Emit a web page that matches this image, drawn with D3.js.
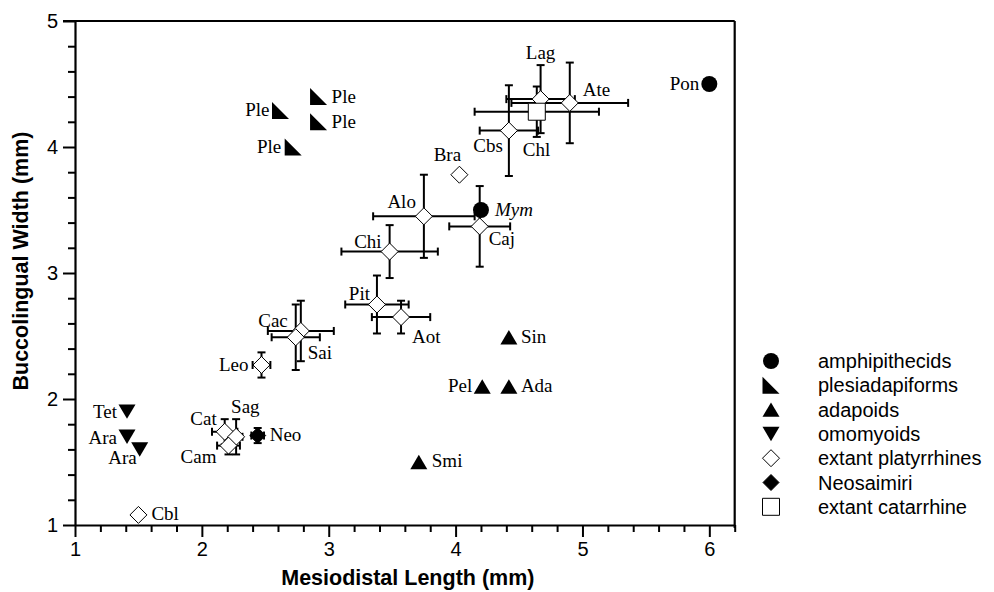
<!DOCTYPE html>
<html>
<head>
<meta charset="utf-8" />
<title>Molar size scatter</title>
<script src="https://cdn.jsdelivr.net/npm/d3@7"></script>
<style>
* { padding: 0; margin: 0; }
body { background: #fff; }
#chart { width: 994px; height: 592px; }
</style>
</head>
<body>
<div id="chart"></div>
<script>
// data
var taxa   = ["Pon","Mym","Ple","Ple","Ple","Ple","Sin","Pel","Ada","Smi","Tet","Ara","Ara",
              "Lag","Ate","Cbs","Bra","Alo","Caj","Chi","Pit","Aot","Cac","Sai","Leo","Cat","Sag","Cam","Cbl",
              "Neo","Chl"]
var groups = ["amph","amph","ples","ples","ples","ples","adap","adap","adap","adap","omo","omo","omo",
              "plat","plat","plat","plat","plat","plat","plat","plat","plat","plat","plat","plat","plat","plat","plat","plat",
              "neo","cat"]
var mdLength = [6.00,4.20,2.62,2.72,2.92,2.92,4.42,4.21,4.42,3.71,1.41,1.41,1.51,
                4.67,4.90,4.42,4.03,3.75,4.19,3.48,3.38,3.57,2.78,2.74,2.47,2.18,2.27,2.21,1.50,
                2.44,4.64]
var blWidth  = [4.50,3.50,4.29,4.00,4.40,4.20,2.49,2.10,2.10,1.50,1.90,1.70,1.60,
                4.38,4.35,4.13,3.78,3.45,3.37,3.17,2.75,2.65,2.54,2.49,2.27,1.74,1.70,1.63,1.08,
                1.71,4.28]
var mdErr    = [0,0,0,0,0,0,0,0,0,0,0,0,0,
                0.27,0.46,0.23,0,0.40,0.24,0.38,0.25,0.23,0.26,0.19,0.07,0.10,0.05,0.09,0,
                0.05,0.49]
var blErr    = [0,0,0,0,0,0,0,0,0,0,0,0,0,
                0.27,0.32,0.36,0,0.33,0.32,0.21,0.23,0.13,0.24,0.26,0.10,0.10,0.14,0.07,0,
                0.06,0.20]

var legendGroups = ["amph","ples","adap","omo","plat","neo","cat"]
var legendNames  = ["amphipithecids","plesiadapiforms","adapoids","omomyoids","extant platyrrhines","Neosaimiri","extant catarrhine"]

// label placement (dx, dy, anchor) for each taxon, same order as above
var labelPos = [[-10,6,"end"],[14,6,"start"],[-11,6,"end"],[-12,6,"end"],[13,6,"start"],[13,6,"start"],
                [12,6,"start"],[-10,6,"end"],[12,6,"start"],[13,5,"start"],[-10,6,"end"],[-10,7,"end"],[-3,15,"end"],
                [0,-40,"middle"],[13,-7,"start"],[-6,21,"end"],[-12,-14,"middle"],[-8,-8,"end"],[9,19,"start"],
                [-8,-4,"end"],[-7,-5,"end"],[11,26,"start"],[-13,-4,"end"],[12,22,"start"],[-13,6,"end"],
                [-8,-7,"end"],[-5,-24,"start"],[-12,17,"end"],[13,5,"start"],[12,5,"start"],[-14,44,"start"]]

var width = 994, height = 592
var margin = {top: 21, left: 75, right: 259.3, bottom: 67}

var svg = d3.select("#chart").append("svg")
    .attr("width", width).attr("height", height)

var x = d3.scaleLinear().domain([1, 6.2]).range([margin.left, width - margin.right])
var y = d3.scaleLinear().domain([1, 5]).range([height - margin.bottom, margin.top])

// custom marker shapes, size = (edge length)^2
var diamond = { draw: function(c, s) { var r = Math.sqrt(s) / 2
    c.moveTo(0, -r); c.lineTo(r, 0); c.lineTo(0, r); c.lineTo(-r, 0); c.closePath() } }
var square = { draw: function(c, s) { var r = Math.sqrt(s) / 2
    c.rect(-r, -r, 2 * r, 2 * r) } }
var circle = { draw: function(c, s) { var r = Math.sqrt(s) / 2
    c.moveTo(r, 0); c.arc(0, 0, r, 0, 2 * Math.PI) } }
var rightTri = { draw: function(c, s) { var r = Math.sqrt(s) / 2
    c.moveTo(-r, -r); c.lineTo(r, r); c.lineTo(-r, r); c.closePath() } }
var upTri = { draw: function(c, s) { var r = Math.sqrt(s) / 2
    c.moveTo(0, -r * 0.85); c.lineTo(r, r * 0.85); c.lineTo(-r, r * 0.85); c.closePath() } }
var downTri = { draw: function(c, s) { var r = Math.sqrt(s) / 2
    c.moveTo(0, r * 0.85); c.lineTo(r, -r * 0.85); c.lineTo(-r, -r * 0.85); c.closePath() } }

var style = {
    amph: {type: circle,   size: 16, fill: "#000", stroke: "none"},
    ples: {type: rightTri, size: 17, fill: "#000", stroke: "none"},
    adap: {type: upTri,    size: 17, fill: "#000", stroke: "none"},
    omo:  {type: downTri,  size: 17, fill: "#000", stroke: "none"},
    plat: {type: diamond,  size: 17, fill: "#fff", stroke: "#000"},
    neo:  {type: diamond,  size: 16, fill: "#000", stroke: "#000"},
    cat:  {type: square,   size: 17, fill: "#fff", stroke: "#000"}
}

var data = taxa.map(function(t, i) {
    return {name: t, group: groups[i], x: mdLength[i], y: blWidth[i], ex: mdErr[i], ey: blErr[i], lab: labelPos[i]}
})

// axes
var xMajor = d3.range(1, 7)
var xMinor = d3.range(1, 6.21, 0.2).filter(function(v) { return Math.abs(v - Math.round(v)) > 0.01 })
var yMajor = d3.range(1, 6)
var yMinor = d3.range(1, 5.01, 0.2).filter(function(v) { return Math.abs(v - Math.round(v)) > 0.01 })

var axisFont = "'Liberation Sans', Arial, sans-serif"

var gx = svg.append("g").attr("transform", "translate(0," + y(1) + ")")
gx.call(d3.axisBottom(x).tickValues(xMajor).tickSize(12).tickSizeOuter(0).tickPadding(5).tickFormat(d3.format("d")))
gx.append("g").call(d3.axisBottom(x).tickValues(xMinor).tickSize(7).tickFormat("")).select(".domain").remove()

var gy = svg.append("g").attr("transform", "translate(" + x(1) + ",0)")
gy.call(d3.axisLeft(y).tickValues(yMajor).tickSize(12).tickSizeOuter(0).tickPadding(5).tickFormat(d3.format("d")))
gy.append("g").call(d3.axisLeft(y).tickValues(yMinor).tickSize(7).tickFormat("")).select(".domain").remove()

svg.selectAll(".domain").attr("stroke-width", 2.2)
svg.selectAll(".tick line").attr("stroke-width", 2)
svg.selectAll(".tick text").attr("font-family", axisFont).attr("font-size", 20).attr("fill", "#000")

// frame
svg.append("line").attr("x1", x(1) - 12).attr("x2", x(6.2)).attr("y1", y(5)).attr("y2", y(5))
    .attr("stroke", "#000").attr("stroke-width", 2.2)
svg.append("line").attr("x1", x(6.2)).attr("x2", x(6.2)).attr("y1", y(5)).attr("y2", y(1) + 3)
    .attr("stroke", "#000").attr("stroke-width", 2.2)

// axis titles
svg.append("text").attr("x", (x(1) + x(6.2)) / 2 + 3).attr("y", 585)
    .attr("text-anchor", "middle").attr("font-family", axisFont).attr("font-weight", "bold")
    .attr("font-size", 21.5).text("Mesiodistal Length (mm)")
svg.append("text").attr("transform", "translate(28," + 261 + ") rotate(-90)")
    .attr("text-anchor", "middle").attr("font-family", axisFont).attr("font-weight", "bold")
    .attr("font-size", 21.5).text("Buccolingual Width (mm)")

// error bars
var cap = 4
var bars = svg.append("g").attr("stroke", "#000").attr("stroke-width", 2)
data.filter(function(d) { return d.ex > 0 }).forEach(function(d) {
    var x0 = x(d.x - d.ex), x1 = x(d.x + d.ex), yy = y(d.y)
    bars.append("line").attr("x1", x0).attr("x2", x1).attr("y1", yy).attr("y2", yy)
    bars.append("line").attr("x1", x0).attr("x2", x0).attr("y1", yy - cap).attr("y2", yy + cap)
    bars.append("line").attr("x1", x1).attr("x2", x1).attr("y1", yy - cap).attr("y2", yy + cap)
})
data.filter(function(d) { return d.ey > 0 }).forEach(function(d) {
    var y0 = y(d.y - d.ey), y1 = y(d.y + d.ey), xx = x(d.x)
    bars.append("line").attr("x1", xx).attr("x2", xx).attr("y1", y0).attr("y2", y1)
    bars.append("line").attr("x1", xx - cap).attr("x2", xx + cap).attr("y1", y0).attr("y2", y0)
    bars.append("line").attr("x1", xx - cap).attr("x2", xx + cap).attr("y1", y1).attr("y2", y1)
})

// markers
svg.append("g").selectAll("path")
    .data(data)
    .enter().append("path")
    .attr("transform", function(d) { return "translate(" + x(d.x) + "," + y(d.y) + ")" })
    .attr("d", function(d) { var s = style[d.group]; return d3.symbol().type(s.type).size(s.size * s.size)() })
    .attr("fill", function(d) { return style[d.group].fill })
    .attr("stroke", function(d) { return style[d.group].stroke })
    .attr("stroke-width", 1)

// labels
svg.append("g").selectAll("text")
    .data(data)
    .enter().append("text")
    .attr("x", function(d) { return x(d.x) + d.lab[0] })
    .attr("y", function(d) { return y(d.y) + d.lab[1] })
    .attr("text-anchor", function(d) { return d.lab[2] })
    .attr("font-family", "'Liberation Serif', 'Times New Roman', serif")
    .attr("font-size", 19)
    .attr("font-style", function(d) { return d.name === "Mym" ? "italic" : "normal" })
    .text(function(d) { return d.name })

// legend
var legend = svg.append("g").selectAll("g")
    .data(legendGroups)
    .enter().append("g")
    .attr("transform", function(d, i) { return "translate(771," + (361 + i * 24.3) + ")" })
legend.append("path")
    .attr("d", function(d) { var s = style[d]; return d3.symbol().type(s.type).size(s.size * s.size)() })
    .attr("fill", function(d) { return style[d].fill })
    .attr("stroke", function(d) { return style[d].stroke })
    .attr("stroke-width", 1)
legend.append("text")
    .attr("x", 47).attr("y", 7)
    .attr("font-family", axisFont).attr("font-size", 20)
    .text(function(d, i) { return legendNames[i] })
</script>
</body>
</html>
